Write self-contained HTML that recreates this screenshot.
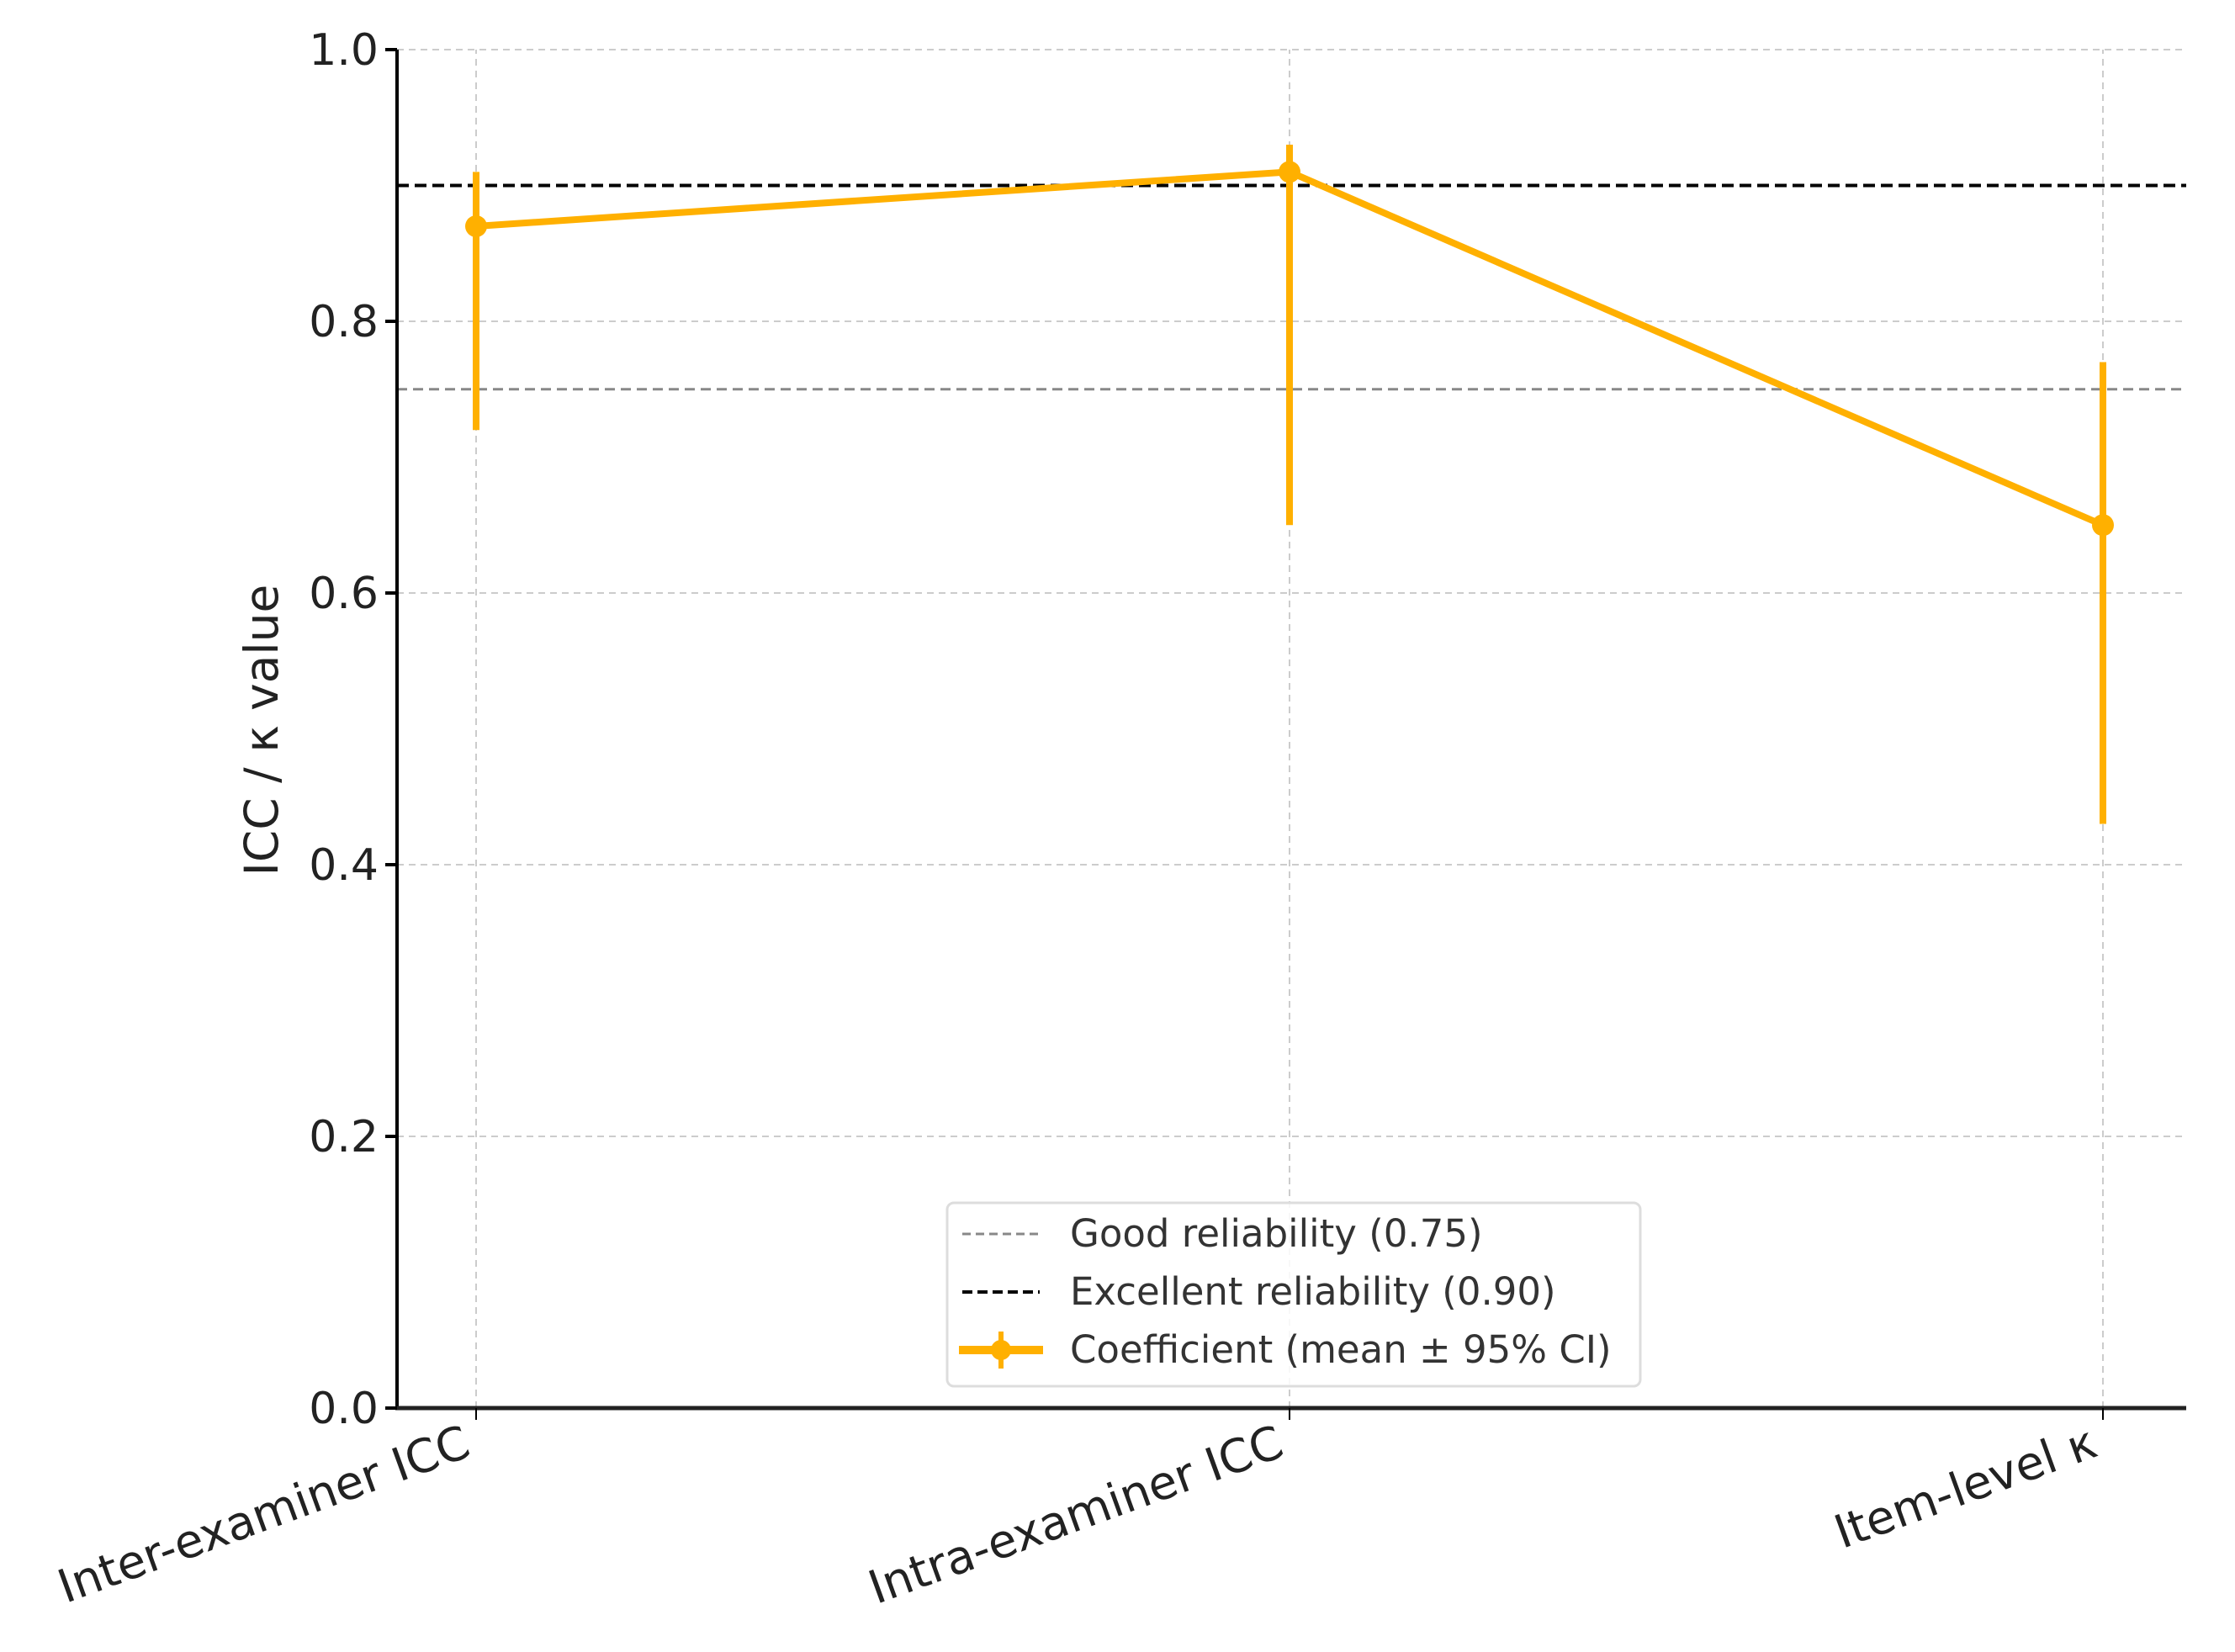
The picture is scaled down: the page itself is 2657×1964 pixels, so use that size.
<!DOCTYPE html>
<html><head><meta charset="utf-8"><style>
html,body{margin:0;padding:0;background:#fff;}
svg{display:block;font-family:"DejaVu Sans","Liberation Sans",sans-serif;}
</style></head><body>
<svg id="chart" width="2657" height="1964" viewBox="0 0 2657 1964" xmlns="http://www.w3.org/2000/svg">
<g id="grid"></g>
<g id="refs"></g>
<g id="series"></g>
<g id="axes"></g>
<text x="0" y="0" transform="translate(330,868) rotate(-90)" text-anchor="middle" font-size="55" fill="#222">ICC / κ value</text>
<g>
<rect x="1126" y="1430" width="824" height="218" rx="8" fill="#fff" fill-opacity="0.85" stroke="#ddd" stroke-width="3"/>
<line x1="1144" y1="1467" x2="1236" y2="1467" stroke="#888" stroke-width="3" stroke-dasharray="10,6"/>
<text x="1272" y="1482" font-size="45" fill="#333">Good reliability (0.75)</text>
<line x1="1144" y1="1536" x2="1236" y2="1536" stroke="#000" stroke-width="4" stroke-dasharray="12,6"/>
<text x="1272" y="1551" font-size="45" fill="#333">Excellent reliability (0.90)</text>
<line x1="1140" y1="1605" x2="1240" y2="1605" stroke="#FFB000" stroke-width="10"/>
<line x1="1190" y1="1583" x2="1190" y2="1627" stroke="#FFB000" stroke-width="6"/>
<circle cx="1190" cy="1605" r="12" fill="#FFB000"/>
<text x="1272" y="1620" font-size="45" fill="#333">Coefficient (mean ± 95% CI)</text>
</g>
<script>
const categories = ["Inter-examiner ICC", "Intra-examiner ICC", "Item-level κ"];
const means = [0.87, 0.91, 0.65];
const lower = [0.72, 0.65, 0.43];
const upper = [0.91, 0.93, 0.77];
const yTicks = [0.0, 0.2, 0.4, 0.6, 0.8, 1.0];
const tickLabels = ["0.0", "0.2", "0.4", "0.6", "0.8", "1.0"];
const refValues = [0.75, 0.90];

const NS = "http://www.w3.org/2000/svg";
const X0 = 472, X1 = 2599, Y0 = 1674, Y1 = 59;
const catX0 = 566, catX1 = 2500;
function xPos(i){ return catX0 + i * (catX1 - catX0) / (categories.length - 1); }
function yPos(v){ return Y0 - v * (Y0 - Y1); }
function mk(tag, attrs, parent){ const e = document.createElementNS(NS, tag); for (const k in attrs) e.setAttribute(k, attrs[k]); parent.appendChild(e); return e; }

const grid = document.getElementById('grid');
yTicks.forEach((t, i) => {
  if (t === 0) return;
  const l = mk('line', {x1: X0, x2: X1, y1: yPos(t), y2: yPos(t), stroke: '#ccc', 'stroke-width': 2, 'stroke-dasharray': '8,6'}, grid);
  
  
});
categories.forEach((c, i) => {
  const l = mk('line', {x1: xPos(i), x2: xPos(i), y1: Y0, y2: Y1, stroke: '#ccc', 'stroke-width': 2, 'stroke-dasharray': '8,6'}, grid);
  
  
});

const refs = document.getElementById('refs');
refValues.forEach((v, i) => {
  const l = mk('line', {x1: X0, x2: X1, y1: yPos(v), y2: yPos(v), stroke: i === 0 ? '#888' : '#000', 'stroke-width': i === 0 ? 3 : 4, 'stroke-dasharray': i === 0 ? '12,7' : '14,7'}, refs);
  
  
});

const series = document.getElementById('series');
means.forEach((m, i) => {
  const e = mk('line', {x1: xPos(i), x2: xPos(i), y1: yPos(lower[i]), y2: yPos(upper[i]), stroke: '#FFB000', 'stroke-width': 8}, series);
  
  
});
const pts = means.map((m, i) => xPos(i) + ',' + yPos(m)).join(' ');
const pl = mk('polyline', {points: pts, fill: 'none', stroke: '#FFB000', 'stroke-width': 8, 'stroke-linejoin': 'round'}, series);


means.forEach((m, i) => {
  const c = mk('circle', {cx: xPos(i), cy: yPos(m), r: 13, fill: '#FFB000'}, series);
  
  
});

const axes = document.getElementById('axes');
const ya = mk('line', {x1: X0, x2: X0, y1: Y0 + 2, y2: Y1, stroke: '#000', 'stroke-width': 4}, axes);


const xa = mk('line', {x1: X0 - 2, x2: X1, y1: Y0, y2: Y0, stroke: '#222', 'stroke-width': 5}, axes);


yTicks.forEach((t, i) => {
  const tk = mk('line', {x1: X0 - 14, x2: X0, y1: yPos(t), y2: yPos(t), stroke: '#000', 'stroke-width': 4}, axes);
  
  
  const tx = mk('text', {x: X0 - 22, y: yPos(t) + 18, 'text-anchor': 'end', 'font-size': 52, fill: '#222'}, axes);
  tx.textContent = tickLabels[i];
  
  
});
categories.forEach((c, i) => {
  const tk = mk('line', {x1: xPos(i), x2: xPos(i), y1: Y0, y2: Y0 + 14, stroke: '#000', 'stroke-width': 2}, axes);
  
  
  const tx = mk('text', {x: 0, y: 0, 'text-anchor': 'end', 'font-size': 55, fill: '#222', transform: 'translate(' + (xPos(i) - 4) + ',' + (Y0 + 56) + ') rotate(-20)'}, axes);
  tx.textContent = c;
  
  
});
</script>
</svg>
</body></html>
